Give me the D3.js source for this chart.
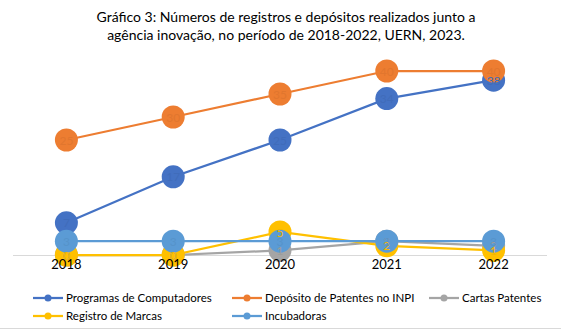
<!DOCTYPE html>
<html>
<head>
<meta charset="utf-8">
<script src="https://cdn.jsdelivr.net/npm/d3@7"></script>
<style>
  body { margin: 0; background: #fff; }
  svg { display: block; font-family: Lato, 'Open Sans', sans-serif; }
</style>
</head>
<body>
<svg id="chart" width="561" height="331"></svg>
<script>
const years = ['2018', '2019', '2020', '2021', '2022']
const programas = [7, 17, 25, 34, 38]
const depositos = [25, 30, 35, 40, 40]
const cartas = [0, 0, 1, 3, 2]
const marcas = [0, 0, 5, 2, 1]
const incubadoras = [3, 3, 3, 3, 3]

const series = [
  {name: 'Programas de Computadores', values: programas, colour: '#4472c4'},
  {name: 'Depósito de Patentes no INPI', values: depositos, colour: '#ed7d31'},
  {name: 'Cartas Patentes', values: cartas, colour: '#a5a5a5'},
  {name: 'Registro de Marcas', values: marcas, colour: '#ffc000'},
  {name: 'Incubadoras', values: incubadoras, colour: '#5b9bd5'}
]

let svg = d3.select('#chart')

let title = svg.append('text')
    .attr('y', 22)
    .attr('text-anchor', 'middle')
    .style('font-size', '14px')
    .style('fill', '#000')
title.append('tspan').attr('x', 286).text('Gráfico 3: Números de registros e depósitos realizados junto a')
title.append('tspan').attr('x', 286).attr('dy', 18).text('agência inovação, no período de 2018-2022, UERN, 2023.')

let x = d3.scaleBand()
    .domain(years)
    .range([13, 547])

let y = d3.scaleLinear()
    .domain([0, 45])
    .range([255, 48])

let px = function(d, i) { return x(years[i]) + x.bandwidth() / 2 }

// zero line first, tick labels go on top of the markers later
svg.append('line')
    .attr('x1', 13)
    .attr('x2', 547)
    .attr('y1', y(0) + 0.5)
    .attr('y2', y(0) + 0.5)
    .attr('stroke', '#d9d9d9')

let line = d3.line()
    .x(px)
    .y(function(d) { return y(d) })

series.forEach(function(s) {
  let g = svg.append('g')

  g.append('path')
      .datum(s.values)
      .attr('d', line)
      .attr('fill', 'none')
      .attr('stroke', s.colour)
      .attr('stroke-width', 2.25)

  g.selectAll('circle')
      .data(s.values)
    .enter().append('circle')
      .attr('cx', px)
      .attr('cy', function(d) { return y(d) })
      .attr('r', 11.5)
      .attr('fill', s.colour)
})

// value labels sit on top of every marker, in a tone close to the series colour
series.forEach(function(s) {
  svg.append('g').selectAll('text')
      .data(s.values)
    .enter().append('text')
      .attr('x', px)
      .attr('y', function(d) { return y(d) + 4.5 })
      .attr('text-anchor', 'middle')
      .style('font-size', '12px')
      .style('fill', d3.color(s.colour).darker(0.15))
      .text(function(d) { return d })
})

let xAxis = svg.append('g')
    .attr('transform', 'translate(0,' + y(0) + ')')
    .call(d3.axisBottom(x).tickSize(0).tickPadding(5))

xAxis.select('path').remove()

xAxis.selectAll('text')
    .style('font-family', 'Lato, sans-serif')
    .style('font-size', '13px')
    .style('fill', '#000')

// legend
let legendPos = [[33, 298], [232, 298], [429, 298], [33, 316], [232, 316]]

let legend = svg.append('g')
    .selectAll('g')
    .data(series)
  .enter().append('g')
    .attr('transform', function(d, i) { return 'translate(' + legendPos[i][0] + ',' + legendPos[i][1] + ')' })

legend.append('line')
    .attr('x1', 0)
    .attr('x2', 30)
    .attr('stroke', function(d) { return d.colour })
    .attr('stroke-width', 2.25)

legend.append('circle')
    .attr('cx', 15)
    .attr('r', 3.5)
    .attr('fill', function(d) { return d.colour })

legend.append('text')
    .attr('x', 33)
    .attr('y', 4)
    .style('font-size', '11.5px')
    .style('fill', '#000')
    .text(function(d) { return d.name })

svg.append('line')
    .attr('x1', 0)
    .attr('x2', 561)
    .attr('y1', 328.5)
    .attr('y2', 328.5)
    .attr('stroke', '#d9d9d9')
</script>
</body>
</html>
